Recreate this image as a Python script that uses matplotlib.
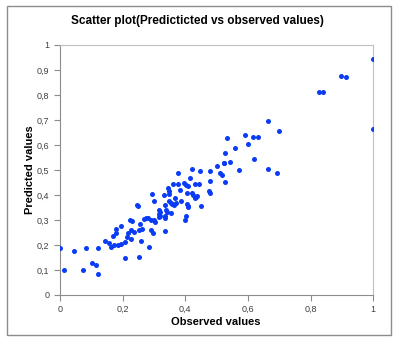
import matplotlib.pyplot as plt
from matplotlib.patches import Rectangle

plt.rcParams['font.family'] = ['Liberation Sans', 'DejaVu Sans']

# observed / predicted values
observed = [0.0, 0.013, 0.045, 0.072, 0.083, 0.101, 0.115, 0.121, 0.121, 0.144,
            0.156, 0.163, 0.169, 0.172, 0.179, 0.179, 0.185, 0.195, 0.195, 0.207,
            0.207, 0.214, 0.217, 0.223, 0.227, 0.227, 0.230, 0.236, 0.246, 0.248,
            0.252, 0.252, 0.255, 0.259, 0.262, 0.268, 0.274, 0.281, 0.284, 0.29,
            0.29, 0.294, 0.297, 0.3, 0.3, 0.303, 0.317, 0.319, 0.317, 0.319,
            0.315, 0.331, 0.334, 0.334, 0.334, 0.337, 0.341, 0.335, 0.344, 0.347,
            0.347, 0.347, 0.353, 0.353, 0.357, 0.36, 0.363, 0.366, 0.369, 0.376,
            0.376, 0.382, 0.385, 0.395, 0.398, 0.401, 0.401, 0.404, 0.404, 0.407,
            0.408, 0.408, 0.414, 0.42, 0.42, 0.426, 0.43, 0.434, 0.437, 0.432,
            0.443, 0.446, 0.449, 0.475, 0.478, 0.478, 0.478, 0.5, 0.51, 0.517,
            0.522, 0.523, 0.526, 0.527, 0.532, 0.543, 0.558, 0.57, 0.59, 0.599,
            0.615, 0.618, 0.631, 0.664, 0.664, 0.692, 0.698, 0.828, 0.838, 0.896,
            0.912, 0.998, 0.998]
predicted = [0.19, 0.10, 0.177, 0.10, 0.19, 0.129, 0.121, 0.19, 0.085, 0.217,
             0.209, 0.193, 0.237, 0.201, 0.265, 0.249, 0.201, 0.277, 0.205, 0.149,
             0.213, 0.233, 0.249, 0.301, 0.261, 0.225, 0.297, 0.253, 0.361, 0.357,
             0.261, 0.153, 0.285, 0.217, 0.265, 0.305, 0.309, 0.309, 0.193, 0.301,
             0.261, 0.405, 0.249, 0.301, 0.377, 0.293, 0.339, 0.333, 0.325, 0.317,
             0.313, 0.401, 0.257, 0.361, 0.309, 0.341, 0.333, 0.318, 0.429, 0.417,
             0.405, 0.377, 0.329, 0.369, 0.365, 0.445, 0.361, 0.389, 0.369, 0.489,
             0.445, 0.421, 0.377, 0.449, 0.301, 0.317, 0.441, 0.409, 0.365, 0.357,
             0.437, 0.353, 0.469, 0.505, 0.409, 0.401, 0.445, 0.392, 0.396, 0.388,
             0.445, 0.497, 0.357, 0.417, 0.409, 0.457, 0.497, 0.517, 0.489, 0.481,
             0.529, 0.527, 0.569, 0.453, 0.629, 0.532, 0.589, 0.501, 0.641, 0.605,
             0.633, 0.545, 0.633, 0.697, 0.505, 0.489, 0.657, 0.813, 0.813, 0.877,
             0.873, 0.944, 0.665]

ticks = [0, 0.2, 0.4, 0.6, 0.8, 1]
yticks = [0, 0.1, 0.2, 0.3, 0.4, 0.5, 0.6, 0.7, 0.8, 0.9, 1]

fig = plt.figure(figsize=(3.95, 3.54), dpi=100)
# outer chart border
fig.patches.append(Rectangle((7/395, 19/354), 384/395, 329/354, transform=fig.transFigure,
                             fill=False, edgecolor='#8c8c8c', linewidth=1))
ax = fig.add_axes([60/395, 59/354, 313.3/395, 250/354])

ax.scatter(observed, predicted, s=13, color='#0a3cf5', linewidths=0, zorder=3)

ax.set_xlim(0, 1)
ax.set_ylim(0, 1)
ax.set_xticks(ticks)
ax.set_yticks(yticks)
ax.set_xticklabels([('%g' % t).replace('.', ',') for t in ticks])
ax.set_yticklabels([('%g' % t).replace('.', ',') for t in yticks])
ax.tick_params(labelsize=6.5, colors='#8c8c8c', labelcolor='#404040', length=4, width=0.8)
ax.tick_params(axis='x', pad=3)

for s in ['left', 'bottom']:
    ax.spines[s].set_color('#8c8c8c')
for s in ['top', 'right']:
    ax.spines[s].set_color('#c0c0c0')

ax.set_xlabel('Observed values', fontsize=8, fontweight='bold', va='center')
ax.xaxis.set_label_coords(0.498, -0.108)
ax.set_ylabel('Predicted values', fontsize=8, fontweight='bold', va='center')
ax.yaxis.set_label_coords(-0.095, 0.5)
fig.text(197/395, 1 - 21/354, 'Scatter plot(Predicticted vs observed values)',
         ha='center', va='center', fontsize=8.5, fontweight='bold')

fig.savefig('out.png', dpi=100)
